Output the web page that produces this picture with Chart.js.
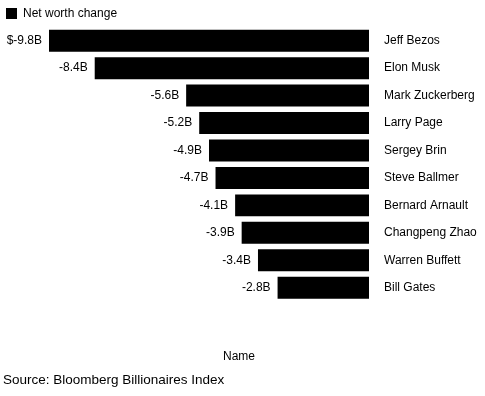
<!DOCTYPE html>
<html>
<head>
<meta charset="utf-8">
<script src="https://cdn.jsdelivr.net/npm/chart.js@4/dist/chart.umd.min.js"></script>
<style>
html,body{margin:0;padding:0;background:#fff;}
#wrap{width:485px;height:396px;}
</style>
</head>
<body>
<div id="wrap"><canvas id="c" width="485" height="396"></canvas></div>
<script>
const names = ['Jeff Bezos','Elon Musk','Mark Zuckerberg','Larry Page','Sergey Brin','Steve Ballmer','Bernard Arnault','Changpeng Zhao','Warren Buffett','Bill Gates'];
const netWorthChange = [-9.8,-8.4,-5.6,-5.2,-4.9,-4.7,-4.1,-3.9,-3.4,-2.8];
const seriesName = 'Net worth change';
const axisTitle = 'Name';
const sourceText = 'Source: Bloomberg Billionaires Index';

function fmt(v,i){ return (i===0?'$':'') + v.toFixed(1) + 'B'; }

const FONT = "'Liberation Sans', Arial, sans-serif";

const valueLabels = {
  id:'valueLabels',
  beforeLayout(chart){
    const lg = chart.legend;
    if (lg && !lg._patched) {
      const orig = lg.fit;
      lg.fit = function(){ orig.call(this); this.height -= 2.5; };
      lg._patched = true;
    }
  },
  afterLayout(chart){
    if (chart.titleBlock) { chart.titleBlock.left += 3; chart.titleBlock.right += 3; }
    const sb = chart.boxes.find(b => b.options && b.options.text === axisTitle);
    if (sb) { sb.left -= 3.5; sb.right -= 3.5; }
  },
  afterDatasetsDraw(chart){
    const ctx = chart.ctx;
    const meta = chart.getDatasetMeta(0);
    ctx.save();
    ctx.font = '12px ' + FONT;
    ctx.fillStyle = '#000';
    ctx.textAlign = 'right';
    ctx.textBaseline = 'middle';
    meta.data.forEach((bar,i)=>{
      const v = chart.data.datasets[0].data[i];
      const left = Math.min(bar.x, bar.base);
      ctx.fillText(fmt(v,i), left - 7, bar.y);
    });
    ctx.restore();
  }
};

new Chart(document.getElementById('c'),{
  type:'bar',
  data:{
    labels:names,
    datasets:[{
      label:seriesName,
      data:netWorthChange,
      backgroundColor:'#000',
      borderWidth:0,
      categoryPercentage:1,
      barPercentage:0.8
    }]
  },
  options:{
    indexAxis:'y',
    responsive:false,
    animation:false,
    devicePixelRatio:1,
    layout:{padding:{left:0,top:1.5,right:0,bottom:0}},
    scales:{
      x:{display:false,min:-9.8,max:0},
      y:{
        position:'right',
        grid:{display:false,drawTicks:false},
        border:{display:false},
        ticks:{padding:15,color:'#000',font:{family:FONT,size:12}},
        afterFit(s){ s.width = 116; }
      },
      spacer:{
        type:'linear',
        position:'left',
        display:true,
        grid:{display:false,drawTicks:false},
        border:{display:false},
        ticks:{display:false},
        afterFit(s){ s.width = 49; }
      }
    },
    plugins:{
      legend:{
        position:'top',align:'start',
        labels:{boxWidth:11,boxHeight:11,padding:6,color:'#000',font:{family:FONT,size:12,lineHeight:1}}
      },
      title:{
        display:true,text:sourceText,position:'bottom',align:'start',
        color:'#000',font:{family:FONT,size:13.5,weight:'normal'},
        padding:{top:4,bottom:8}
      },
      subtitle:{
        display:true,text:axisTitle,position:'bottom',align:'center',
        color:'#000',font:{family:FONT,size:12,weight:'normal'},
        padding:{top:48,bottom:4}
      },
      tooltip:{enabled:false}
    }
  },
  plugins:[valueLabels]
});
</script>
</body>
</html>
